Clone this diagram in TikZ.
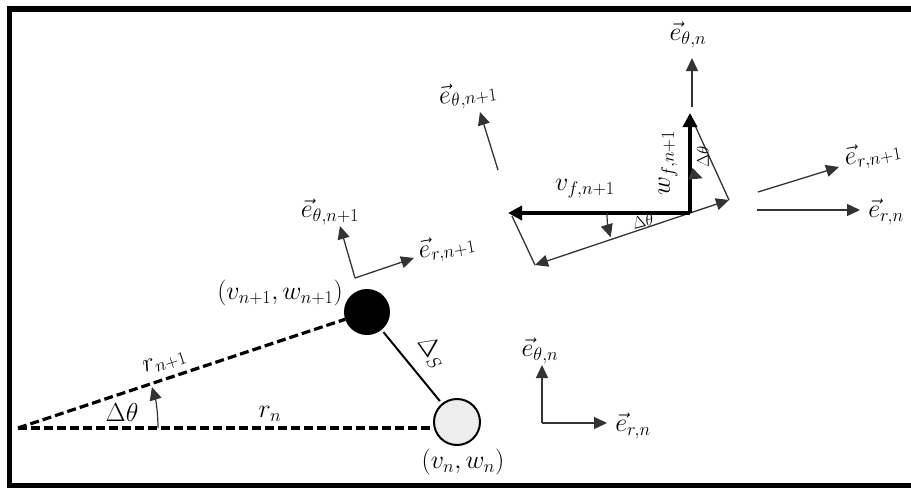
\documentclass[tikz,border=0pt]{standalone}
\usepackage{fix-cm}
\usepackage{amsmath, amssymb}
\usepackage{tikz}
\usetikzlibrary{positioning, arrows.meta, calc}

\tikzset{
  thinvec/.style={draw=black!80, line width=1.3pt,
                  -{Triangle[length=13pt, width=12pt]}},
  thickvec/.style={line width=3.6pt, -{Triangle[length=14pt, width=14pt]}},
  radial/.style={line width=3.2pt, dash pattern=on 9pt off 4pt},
  lbl/.style={font=\fontsize{26}{30}\selectfont, inner sep=0pt},
  smalllbl/.style={font=\fontsize{17}{20}\selectfont, inner sep=0pt},
  mass/.style={circle, draw, line width=2pt, inner sep=0pt}
}

\begin{document}
\begin{tikzpicture}[x=1pt, y=-1pt]
        \useasboundingbox (0,0) rectangle (911,488);
        \draw[line width=5.5pt] (9.5,9) rectangle (930,485.5);

        % left part: the two positions
        \coordinate (o) at (18,428);
        \node[mass, fill=black!7, minimum size=46pt] (pn) at (457,422) {};
        \node[mass, fill=black, minimum size=44pt] (pn1) at (367,312) {};
        \draw[radial] (o) -- (o -| pn.west);
        \draw[radial] (o) -- (pn1);
        \draw[line width=2pt, shorten <=3pt, shorten >=3pt] (pn1) -- (pn);
        \draw[thinvec, line width=1.2pt] ($(o)+(140,0)$)
              arc[start angle=0, end angle=-17, radius=140];
        \node[lbl] (dth) at (122,412) {$\Delta\theta$};
        \node[lbl] (rn) at (270,414) {$r_n$};
        \node[lbl, rotate=18] (rn1) at (165,363) {$r_{n+1}$};
        \node[lbl, rotate=-55] (ds) at (432,352) {$\Delta_S$};
        \node[lbl] (pn1lbl) at (280,293) {$(v_{n+1},w_{n+1})$};
        \node[lbl] (pnlbl) at (463,462) {$(v_n,w_n)$};

        % frame at position n+1
        \coordinate (f1) at (355,278);
        \coordinate (f1t) at (340,226);
        \coordinate (f1r) at (414,258);
        \draw[thinvec] (f1) -- (f1t);
        \draw[thinvec] (f1) -- (f1r);
        \node[lbl] (f1tlbl) at (330,212) {$\vec{e}_{\theta,n+1}$};
        \node[lbl, rotate=10] (f1rlbl) at (447,248) {$\vec{e}_{r,n+1}$};

        % frame at position n
        \coordinate (f0) at (542,423);
        \coordinate (f0t) at (542,365);
        \coordinate (f0r) at (607,423);
        \draw[thinvec] (f0) -- (f0t);
        \draw[thinvec] (f0) -- (f0r);
        \node[lbl] (f0tlbl) at (540,351) {$\vec{e}_{\theta,n}$};
        \node[lbl] (f0rlbl) at (633,426) {$\vec{e}_{r,n}$};

        % velocity decomposition
        \coordinate (c) at (690,213);
        \coordinate (vf) at (508,213);
        \coordinate (wf) at (690,113);
        \coordinate (wr) at (729,200);
        \coordinate (vr) at (535,265);
        \draw[thinvec] (c) -- (wr);
        \draw[draw=black!80, line width=1.3pt] (wr) -- (693,121);
        \draw[thinvec] (c) -- (vr);
        \draw[draw=black!80, line width=1.3pt] (vr) -- (512,216);
        \draw[thickvec] (c) -- (vf);
        \draw[thickvec] (c) -- (wf);
        \draw[thinvec, line width=1.2pt] ($(c)+(-83,0)$)
              arc[start angle=180, end angle=163, radius=83];
        \draw[thinvec, line width=1.2pt] ($(c)+(0,-37)$)
              arc[start angle=-90, end angle=-70, radius=37];
        \node[lbl] (vflbl) at (585,189) {$v_{f,n+1}$};
        \node[lbl, rotate=90] (wflbl) at (668,163) {$w_{f,n+1}$};
        \node[smalllbl, rotate=15] (dth1) at (643,221) {$\Delta\theta$};
        \node[smalllbl, rotate=90] (dth2) at (703,157) {$\Delta\theta$};

        % basis vectors around the decomposition
        \coordinate (et0) at (692,107);
        \coordinate (et1) at (692,58);
        \draw[thinvec] (et0) -- (et1);
        \node[lbl] (et1lbl) at (688,35) {$\vec{e}_{\theta,n}$};
        \coordinate (en0) at (498,170);
        \coordinate (en1) at (480,112);
        \draw[thinvec] (en0) -- (en1);
        \node[lbl, rotate=8] (en1lbl) at (468,95) {$\vec{e}_{\theta,n+1}$};
        \coordinate (er0) at (758,192);
        \coordinate (er1) at (839,167);
        \draw[thinvec] (er0) -- (er1);
        \node[lbl, rotate=10] (er1lbl) at (873,155) {$\vec{e}_{r,n+1}$};
        \coordinate (rn0) at (757,210);
        \coordinate (rn1) at (860,210);
        \draw[thinvec] (rn0) -- (rn1);
        \node[lbl] (rn1lbl) at (886,212) {$\vec{e}_{r,n}$};
\end{tikzpicture}
\end{document}
